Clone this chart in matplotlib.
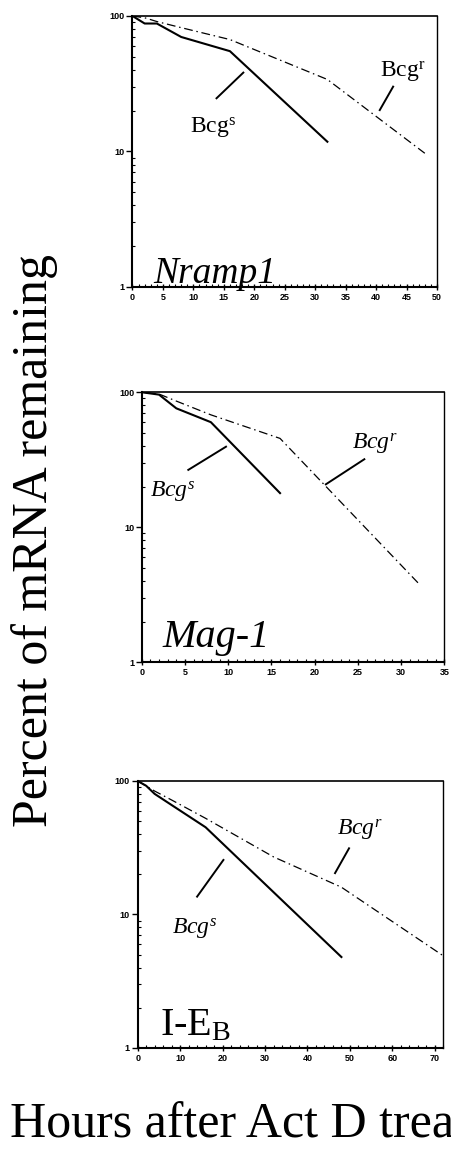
import matplotlib
matplotlib.use("Agg")
import matplotlib.pyplot as plt
import numpy as np

plt.rcParams['font.family'] = ['Liberation Serif', 'DejaVu Serif']
plt.rcParams['mathtext.fontset'] = 'custom'
plt.rcParams['mathtext.rm'] = 'Liberation Serif'
plt.rcParams['mathtext.it'] = 'Liberation Serif:italic'

# Nramp1
nramp_s_t = [0, 2, 4, 8, 16, 32]
nramp_s = [100, 88, 88, 70, 55, 11.8]
nramp_r_t = [0, 2, 4, 8, 16, 32, 48]
nramp_r = [100, 97, 91, 82, 67, 34, 9.7]

# Mag-1
mag_s_t = [0, 2, 4, 8, 16]
mag_s = [100, 96, 76, 60, 17.9]
mag_r_t = [0, 2, 4, 8, 16, 32]
mag_r = [100, 97, 86, 68, 45.5, 3.85]

# I-E_B
ie_s_t = [0, 2, 4, 8, 16, 48]
ie_s = [100, 92, 80, 66, 45, 4.8]
ie_r_t = [0, 4, 8, 16, 32, 48, 72]
ie_r = [100, 84, 72, 52.5, 27, 16, 4.9]

x_max = [50, 35, 72]
x_step = [5, 5, 10]

fig = plt.figure(figsize=(4.52, 11.67), dpi=100)

ax1 = fig.add_axes([0.2931, 0.7541, 0.6737, 0.2322])
ax2 = fig.add_axes([0.3135, 0.4325, 0.6695, 0.2314])
ax3 = fig.add_axes([0.3046, 0.1020, 0.6761, 0.2288])

dashdot = (0, (7, 3, 1.2, 3))

def style(ax, xm, step):
    ax.set_yscale('log')
    ax.set_ylim(1, 100)
    ax.set_xlim(0, xm)
    ax.set_xticks(np.arange(0, xm + 1, step))
    ax.set_xticks(np.arange(0, xm + 0.1, step / 5.0), minor=True)
    ax.set_yticks([1, 10, 100])
    ax.set_yticklabels(['1', '10', '100'])
    for lab in ax.get_xticklabels() + ax.get_yticklabels():
        lab.set_fontfamily('Liberation Sans')
        lab.set_fontsize(6.5)
        lab.set_fontweight('bold')
    ax.tick_params(which='major', length=4, width=1, pad=1.5)
    ax.tick_params(which='minor', length=2, width=0.8, direction='in')
    ax.tick_params(axis='x', which='major', direction='inout', length=5)
    ax.spines['left'].set_linewidth(1.5)
    ax.spines['bottom'].set_linewidth(1.5)
    ax.spines['right'].set_linewidth(1.0)
    ax.spines['top'].set_linewidth(1.2)

# panel 1
ax1.plot(nramp_s_t, nramp_s, color='black', lw=1.5)
ax1.plot(nramp_r_t, nramp_r, color='black', lw=0.9, linestyle=dashdot)
style(ax1, x_max[0], x_step[0])
ax1.text(9.4, 13.7, r'$\mathrm{Bcg}^{\mathrm{s}}$', fontsize=17)
ax1.plot([13.8, 18.2], [24.7, 38.2], color='black', lw=1.4)
ax1.text(40.6, 35.5, r'$\mathrm{Bcg}^{\mathrm{r}}$', fontsize=17)
ax1.plot([40.6, 42.8], [20.2, 30.1], color='black', lw=1.4)
ax1.text(3.4, 1.07, 'Nramp1', fontsize=27, style='italic')

# panel 2
ax2.plot(mag_s_t, mag_s, color='black', lw=1.5)
ax2.plot(mag_r_t, mag_r, color='black', lw=0.9, linestyle=dashdot)
style(ax2, x_max[1], x_step[1])
ax2.text(0.96, 16.9, r'$Bcg^{s}$', fontsize=17)
ax2.plot([5.39, 9.75], [26.6, 39.5], color='black', lw=1.4)
ax2.text(24.3, 38.5, r'$Bcg^{r}$', fontsize=17)
ax2.plot([21.3, 25.75], [20.8, 31.9], color='black', lw=1.4)
ax2.text(2.35, 1.30, 'Mag-1', fontsize=29, style='italic')

# panel 3
ax3.plot(ie_s_t, ie_s, color='black', lw=1.5)
ax3.plot(ie_r_t, ie_r, color='black', lw=0.9, linestyle=dashdot)
style(ax3, x_max[2], x_step[2])
ax3.text(8.1, 7.2, r'$Bcg^{s}$', fontsize=17)
ax3.plot([20.2, 14.0], [25.6, 13.6], color='black', lw=1.4)
ax3.text(46.9, 39.4, r'$Bcg^{r}$', fontsize=17)
ax3.plot([49.8, 46.5], [31.3, 20.4], color='black', lw=1.4)
ax3.text(5.25, 1.25, r'I-E$_{\mathrm{B}}$', fontsize=29)

fig.text(0.077, 0.5369, 'Percent of mRNA remaining', rotation=90,
         ha='center', va='center', fontsize=36)
# the label runs past the right edge in the original figure crop
fig.text(0.022, 0.025, 'Hours after Act D treatment', ha='left',
         va='baseline', fontsize=36)

fig.savefig('out.png', dpi=100)
